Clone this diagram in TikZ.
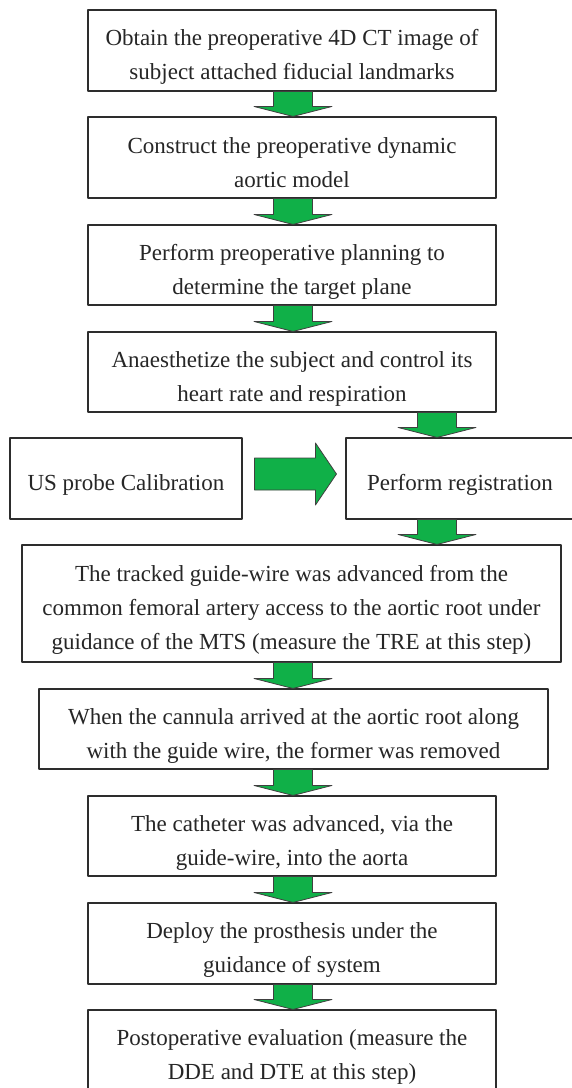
\documentclass[tikz,border=0pt]{standalone}
\usepackage{fontspec}
\setmainfont{Liberation Serif}
\usetikzlibrary{calc}
\definecolor{arrowgreen}{RGB}{16,176,72}
\definecolor{boxline}{RGB}{45,45,45}
\tikzset{
  stepbox/.style={draw=boxline,line width=1.1pt,fill=white,align=flush center,inner sep=0pt,
    text width=#1,text=black!85,font=\fontsize{23pt}{34pt}\selectfont,
    execute at begin node={\rule{0pt}{29pt}},
    execute at end node={\rule[-4pt]{0pt}{4pt}}},
  greenarrow/.style={fill=arrowgreen,draw=black!75,line width=0.8pt}
}
% green block arrow between two boxes, optional sideways shift
\newcommand{\flowarrow}[3][0pt]{%
  \filldraw[greenarrow] let \p1=(#2.south), \p2=(#3.north) in
    (\x1+#1-19.5pt,\y1) -- (\x1+#1-19.5pt,\y2+10pt) -- (\x1+#1-39pt,\y2+10pt)
    -- (\x1+#1,\y2) -- (\x1+#1+39pt,\y2+10pt) -- (\x1+#1+19.5pt,\y2+10pt)
    -- (\x1+#1+19.5pt,\y1) -- cycle;}
\begin{document}
\begin{tikzpicture}[line cap=round,line join=round,x=1pt,y=-1pt]
  \useasboundingbox (0,0) rectangle (572,1088);
  \clip (0,0) rectangle (572,1088);
  \node[stepbox=408pt,minimum height=81pt] (obtain) at (292,50.5)
    {Obtain the preoperative 4D CT image of\\subject attached fiducial landmarks};
  \node[stepbox=408pt,minimum height=81pt] (model) at (292,157.5)
    {Construct the preoperative dynamic\\aortic model};
  \node[stepbox=408pt,minimum height=80pt] (plan) at (292,265)
    {Perform preoperative planning to\\determine the target plane};
  \node[stepbox=408pt,minimum height=80pt] (anaes) at (292,372)
    {Anaesthetize the subject and control its\\heart rate and respiration};
  \node[stepbox=232pt,minimum height=81pt] (calib) at (126,478.5)
    {US probe Calibration};
  \node[stepbox=228pt,minimum height=81pt] (reg) at (460,478.5)
    {Perform registration};
  \node[stepbox=539pt,minimum height=117pt] (wire) at (291.5,603.5)
    {The tracked guide-wire was advanced from the\\common femoral artery access to the aortic root under\\guidance of the MTS (measure the TRE at this step)};
  \node[stepbox=509pt,minimum height=80pt] (cannula) at (293.5,729)
    {When the cannula arrived at the aortic root along\\with the guide wire, the former was removed};
  \node[stepbox=408pt,minimum height=80pt] (cath) at (292,836)
    {The catheter was advanced, via the\\guide-wire, into the aorta};
  \node[stepbox=408pt,minimum height=81pt] (deploy) at (292,943.5)
    {Deploy the prosthesis under the\\guidance of system};
  \node[stepbox=408pt,minimum height=81pt] (post) at (292,1050.5)
    {Postoperative evaluation (measure the\\DDE and DTE at this step)};
  % arrows
  \flowarrow[1pt]{obtain}{model}
  \flowarrow[1pt]{model}{plan}
  \flowarrow[1pt]{plan}{anaes}
  \flowarrow[145pt]{anaes}{reg}
  \flowarrow[-23pt]{reg}{wire}
  \flowarrow[1.5pt]{wire}{cannula}
  \flowarrow[-0.5pt]{cannula}{cath}
  \flowarrow[1pt]{cath}{deploy}
  \flowarrow[1pt]{deploy}{post}
  \filldraw[greenarrow] let \p1=(calib.east), \p2=(reg.west) in
    (\x1+12pt,\y1+20.5pt) -- (\x2-30pt,\y1+20.5pt) -- (\x2-30pt,\y1+35.5pt)
    -- (\x2-9pt,\y1+4.5pt) -- (\x2-30pt,\y1-26.5pt) -- (\x2-30pt,\y1-11.5pt)
    -- (\x1+12pt,\y1-11.5pt) -- cycle;
\end{tikzpicture}
\end{document}
